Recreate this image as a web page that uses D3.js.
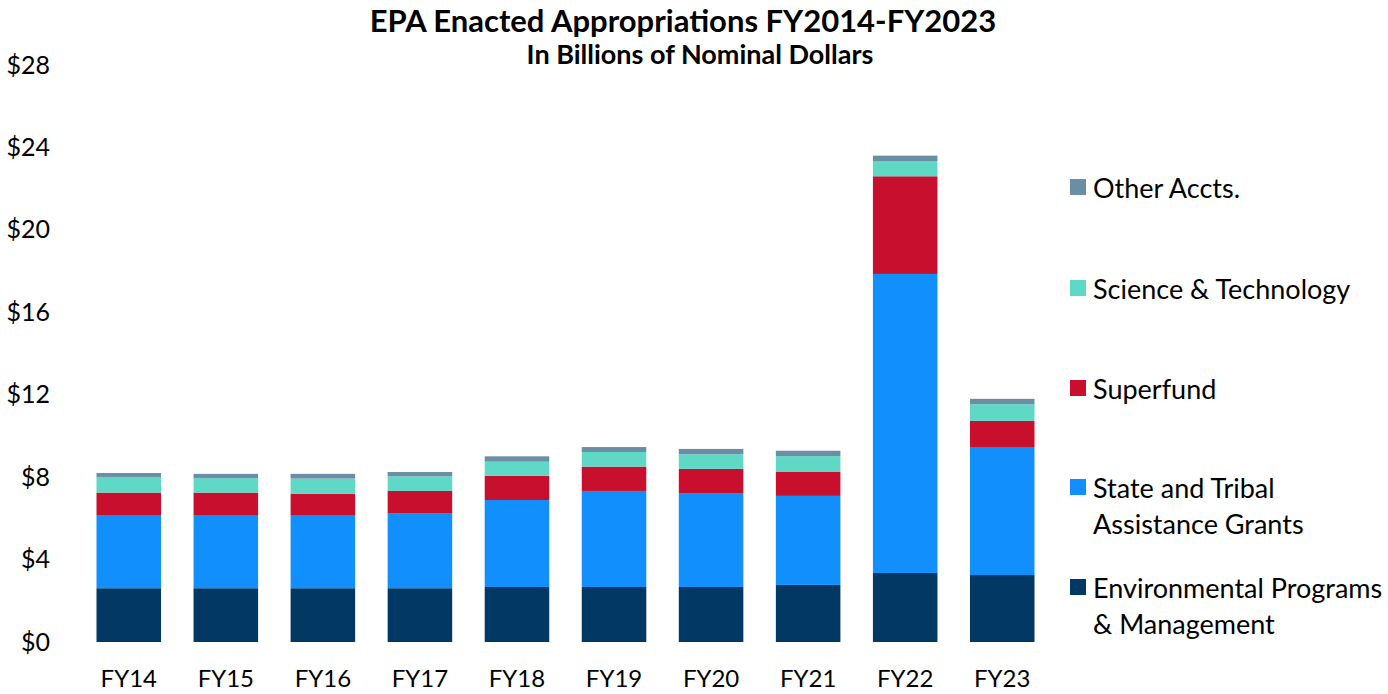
<!DOCTYPE html>
<html>
<head>
<meta charset="utf-8">
<script src="https://cdn.jsdelivr.net/npm/d3@7"></script>
<style>
  body { margin: 0; background: #fff; }
  text { font-family: Lato, "Open Sans", sans-serif; fill: #000; }
</style>
</head>
<body>
<svg id="chart" width="1388" height="694"></svg>
<script>
// fiscal years on the x axis
const years = ["FY14", "FY15", "FY16", "FY17", "FY18", "FY19", "FY20", "FY21", "FY22", "FY23"];

// values in billions
const envPrograms = [2.61, 2.61, 2.61, 2.61, 2.67, 2.67, 2.67, 2.77, 3.35, 3.25];
const stateTribal = [3.52, 3.52, 3.52, 3.62, 4.22, 4.66, 4.53, 4.32, 14.51, 6.18];
const superfund   = [1.12, 1.12, 1.07, 1.10, 1.17, 1.18, 1.20, 1.18, 4.74, 1.30];
const sciTech     = [0.76, 0.70, 0.73, 0.71, 0.69, 0.71, 0.71, 0.75, 0.74, 0.81];
const otherAccts  = [0.19, 0.21, 0.23, 0.21, 0.26, 0.24, 0.26, 0.26, 0.26, 0.26];

const yTicks = [0, 4, 8, 12, 16, 20, 24, 28];

const seriesKeys = ["env", "stag", "sf", "st", "other"];
const seriesNames = {
  env: ["Environmental Programs", "& Management"],
  stag: ["State and Tribal", "Assistance Grants"],
  sf: ["Superfund"],
  st: ["Science & Technology"],
  other: ["Other Accts."]
};
const colors = {
  env: "#023864",
  stag: "#108ffd",
  sf: "#c8102e",
  st: "#5fd9c6",
  other: "#6a8ea3"
};

const rows = years.map((y, i) => ({
  year: y,
  env: envPrograms[i],
  stag: stateTribal[i],
  sf: superfund[i],
  st: sciTech[i],
  other: otherAccts[i]
}));

const svg = d3.select("#chart");
const margin = { top: 65, bottom: 52, left: 80 };
const plotBottom = 694 - margin.bottom;

const x = d3.scaleBand()
  .domain(years)
  .range([80, 1051])
  .paddingInner(0.335)
  .paddingOuter(0.17);

const y = d3.scaleLinear()
  .domain([0, 28])
  .range([plotBottom, margin.top]);

const stack = d3.stack().keys(seriesKeys);
const layers = stack(rows);

svg.append("g")
  .selectAll("g")
  .data(layers)
  .join("g")
  .attr("fill", d => colors[d.key])
  .selectAll("rect")
  .data(d => d)
  .join("rect")
  .attr("x", d => x(d.data.year))
  .attr("width", x.bandwidth())
  .attr("y", d => y(d[1]))
  .attr("height", d => y(d[0]) - y(d[1]));

// y axis: labels only
const yAxis = svg.append("g")
  .attr("transform", "translate(50,0)")
  .call(d3.axisLeft(y).tickValues(yTicks).tickSize(0).tickPadding(0).tickFormat(d => "$" + d));
yAxis.select(".domain").remove();
yAxis.selectAll("text")
  .style("font-family", "Lato, 'Open Sans', sans-serif")
  .style("font-size", "25px")
  .attr("fill", "#000");

// x axis: labels only
const xAxis = svg.append("g")
  .attr("transform", `translate(0,${plotBottom})`)
  .call(d3.axisBottom(x).tickSize(0).tickPadding(28));
xAxis.select(".domain").remove();
xAxis.selectAll("text")
  .style("font-family", "Lato, 'Open Sans', sans-serif")
  .style("font-size", "24px")
  .attr("fill", "#000");

// titles
svg.append("text")
  .attr("x", 683).attr("y", 32)
  .attr("text-anchor", "middle")
  .style("font-size", "31px")
  .style("font-weight", "bold")
  .text("EPA Enacted Appropriations FY2014-FY2023");

svg.append("text")
  .attr("x", 700).attr("y", 64)
  .attr("text-anchor", "middle")
  .style("font-size", "27px")
  .style("font-weight", "bold")
  .text("In Billions of Nominal Dollars");

// legend, top to bottom
const legendKeys = ["other", "st", "sf", "stag", "env"];
const legendY = [187, 288, 388, 487, 587];
const legend = svg.append("g");
legendKeys.forEach((k, i) => {
  const g = legend.append("g").attr("transform", `translate(1070,${legendY[i]})`);
  g.append("rect")
    .attr("x", 0).attr("y", -8)
    .attr("width", 16).attr("height", 16)
    .attr("fill", colors[k]);
  const t = g.append("text")
    .attr("x", 23).attr("y", 0)
    .attr("dominant-baseline", "central")
    .style("font-size", "27px");
  seriesNames[k].forEach((line, j) => {
    t.append("tspan").attr("x", 23).attr("dy", j === 0 ? 0 : 36).text(line);
  });
});
</script>
</body>
</html>
